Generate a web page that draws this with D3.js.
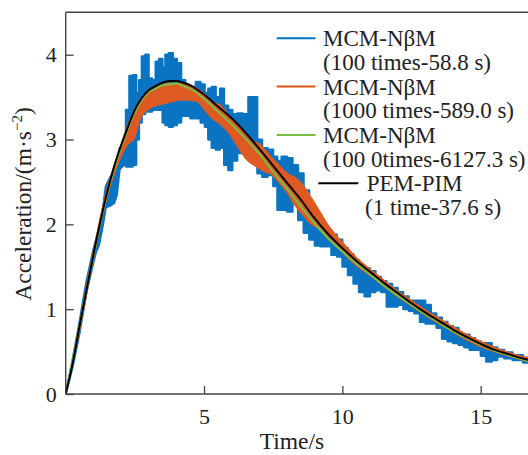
<!DOCTYPE html>
<html>
<head>
<meta charset="utf-8">
<script src="https://cdn.jsdelivr.net/npm/d3@7"></script>
<style>
  html, body { margin: 0; padding: 0; background: #fff; }
  svg { display: block; }
  text { font-family: "Liberation Serif", "Times New Roman", serif; fill: #222; }
</style>
</head>
<body>
<svg id="chart" width="528" height="455"></svg>
<script>
// ---------- data ----------
const xTicks = [5, 10, 15];
const yTicks = [0, 1, 2, 3, 4];

// PEM-PIM (1 time-37.6 s)
const pemT = [0,0.25,0.5,0.75,1,1.25,1.5,1.75,2,2.25,2.5,2.75,3,3.25,3.5,3.75,4,4.25,4.5,4.75,5,5.5,6,6.5,7,7.5,8,8.5,9,9.5,10,10.5,11,11.5,12,12.5,13,13.5,14,14.5,15,15.5,16,16.5,16.75];
const pemV = [0,0.36,0.8,1.22,1.64,2.03,2.38,2.68,2.93,3.15,3.35,3.49,3.58,3.63,3.67,3.69,3.69,3.67,3.64,3.59,3.53,3.39,3.25,3.08,2.89,2.69,2.49,2.29,2.07,1.88,1.72,1.57,1.44,1.31,1.19,1.07,0.96,0.86,0.76,0.67,0.59,0.52,0.47,0.42,0.40];

// MCM-NβM (10000 times) — thin line
const greenT = [0,0.5,1,1.5,2,2.5,3,3.25,3.5,3.75,4,4.25,4.5,5,5.5,6,6.5,7,7.5,8,8.5,9,9.5,10,10.5,11,11.5,12,12.5,13,13.5,14,14.5,15,15.5,16,16.5,16.75];
const greenV = [0,0.8,1.63,2.36,2.9,3.32,3.56,3.6,3.64,3.65,3.66,3.63,3.6,3.48,3.33,3.18,3.01,2.83,2.62,2.42,2.21,2.01,1.83,1.68,1.54,1.41,1.28,1.16,1.05,0.94,0.84,0.74,0.66,0.58,0.51,0.46,0.41,0.39];

// MCM-NβM (1000 times) — band (low / high envelope)
const orangeT = [0,0.5,1,1.5,2,2.25,2.45,2.7,3.05,3.65,4.25,4.75,5,5.3,5.6,5.9,6.2,6.5,6.8,7.0,7.2,7.4,7.7,8,8.3,8.6,8.9,9.2,9.5,9.8,10.1,10.5,11,11.5,12,12.5,13,13.5,14,14.5,15,15.5,16,16.75];
const orangeLow  = [0,0.75,1.6,2.33,2.8,2.95,3.0,3.25,3.37,3.43,3.47,3.45,3.36,3.25,3.18,3.08,2.93,2.78,2.7,2.66,2.62,2.6,2.5,2.38,2.22,2.1,2.0,1.94,1.84,1.75,1.64,1.52,1.4,1.27,1.15,1.04,0.93,0.83,0.73,0.64,0.56,0.5,0.45,0.38];
const orangeHigh = [0,0.82,1.68,2.42,2.93,3.17,3.32,3.47,3.59,3.66,3.66,3.6,3.54,3.44,3.4,3.28,3.18,3.06,2.97,2.95,2.88,2.8,2.7,2.6,2.55,2.45,2.3,2.14,1.98,1.86,1.75,1.61,1.47,1.34,1.21,1.1,0.99,0.89,0.79,0.7,0.62,0.55,0.49,0.42];

// MCM-NβM (100 times) — band (low / high envelope)
const blueT = [0,0.25,0.5,0.75,1.0,1.1,1.2,1.35,1.45,1.6,1.75,1.85,1.95,2.1,2.25,2.35,2.5,2.6,2.7,2.8,2.95,3.05,3.2,3.3,3.45,3.55,3.65,3.8,3.95,4.1,4.25,4.4,4.6,4.8,4.95,5.1,5.2,5.35,5.5,5.65,5.8,5.95,6.1,6.3,6.5,6.7,6.85,7.0,7.2,7.4,7.6,7.7,7.9,8.1,8.3,8.5,8.7,8.9,9.1,9.3,9.5,9.7,9.9,10.1,10.3,10.5,10.7,10.9,11.1,11.3,11.5,11.7,11.9,12.1,12.3,12.5,12.7,12.9,13.1,13.3,13.5,13.7,13.9,14.1,14.3,14.5,14.7,14.9,15.1,15.3,15.5,15.7,16.0,16.3,16.75];
const blueLow  = [0,0.32,0.72,1.2,1.55,1.68,1.75,2.0,2.2,2.22,2.25,2.35,2.65,2.7,2.68,2.68,2.7,3.0,3.2,3.3,3.33,3.33,3.35,3.35,3.35,3.2,3.17,3.15,3.17,3.2,3.28,3.28,3.25,3.25,3.2,3.15,3.0,2.9,2.88,2.9,2.7,2.64,2.75,2.84,2.84,2.8,2.75,2.6,2.56,2.58,2.45,2.17,2.17,2.15,2.25,2.05,1.9,1.82,1.75,1.74,1.74,1.64,1.62,1.5,1.4,1.3,1.2,1.15,1.2,1.22,1.2,1.03,1.03,1.05,1.0,0.98,0.95,0.85,0.83,0.83,0.78,0.65,0.62,0.6,0.58,0.55,0.52,0.52,0.45,0.38,0.4,0.44,0.42,0.4,0.37];
const blueHigh = [0,0.4,0.85,1.33,1.7,1.82,1.95,2.2,2.45,2.55,2.62,2.75,2.9,2.95,3.35,3.75,3.76,3.55,3.7,3.98,4.0,3.72,3.7,3.92,3.95,3.85,4.0,4.02,3.95,3.9,3.7,3.62,3.62,3.68,3.65,3.55,3.6,3.62,3.5,3.6,3.4,3.35,3.3,3.31,3.3,3.5,3.5,3.0,2.9,2.88,2.8,2.75,2.8,2.78,2.7,2.6,2.4,2.2,2.05,1.93,1.93,1.88,1.82,1.72,1.65,1.58,1.52,1.48,1.45,1.38,1.33,1.3,1.25,1.2,1.15,1.1,1.1,1.1,1.05,0.95,0.9,0.85,0.8,0.78,0.7,0.7,0.66,0.62,0.6,0.6,0.55,0.52,0.49,0.46,0.43];

const legendItems = [
  { line1: "MCM-NβM", line2: "(100 times-58.8 s)", color: "#0072BD" },
  { line1: "MCM-NβM", line2: "(1000 times-589.0 s)", color: "#D95319" },
  { line1: "MCM-NβM", line2: "(100 0times-6127.3 s)", color: "#77C043" },
  { line1: "PEM-PIM", line2: "(1 time-37.6 s)", color: "#000000" }
];

// ---------- layout ----------
const plot = { left: 65.7, top: 12.3, right: 528, bottom: 394 };
const svg = d3.select("#chart");

const x = d3.scaleLinear().domain([0, 16.71]).range([plot.left, plot.right]);
const y = d3.scaleLinear().domain([0, 4.5]).range([plot.bottom, plot.top]);

svg.append("clipPath").attr("id", "clip")
  .append("rect").attr("x", plot.left).attr("y", plot.top)
  .attr("width", plot.right - plot.left).attr("height", plot.bottom - plot.top);

const g = svg.append("g").attr("clip-path", "url(#clip)");

function bandIdx(T, lo, hi, idx, curve) {
  return d3.area().x(i => x(T[i])).y0(i => y(lo[i])).y1(i => y(hi[i])).curve(curve)(idx);
}
function line(T, V) {
  return d3.line().x((d, i) => x(T[i])).y((d, i) => y(V[i])).curve(d3.curveMonotoneX)(T);
}

// blue band: steep rise drawn linearly, the noisy remainder as steps
const blueRise = d3.range(blueT.length).filter(i => blueT[i] <= 2.1);
const blueRest = d3.range(blueT.length).filter(i => blueT[i] >= 2.1);
[[blueRise, d3.curveLinear], [blueRest, d3.curveStep]].forEach(([idx, c]) => {
  g.append("path").attr("d", bandIdx(blueT, blueLow, blueHigh, idx, c))
    .attr("fill", "#0A74C2").attr("stroke", "#0A74C2").attr("stroke-width", 2.2).attr("stroke-linejoin", "round");
});
// orange band
g.append("path").attr("d", bandIdx(orangeT, orangeLow, orangeHigh, d3.range(orangeT.length), d3.curveMonotoneX))
  .attr("fill", "#DE5A22").attr("stroke", "#DE5A22").attr("stroke-width", 1.5);
// green line
g.append("path").attr("d", line(greenT, greenV))
  .attr("fill", "none").attr("stroke", "#77C043").attr("stroke-width", 2);
// black line
g.append("path").attr("d", line(pemT, pemV))
  .attr("fill", "none").attr("stroke", "#000").attr("stroke-width", 2);

// ---------- axes ----------
const axisColor = "#444";
const xAxis = svg.append("g").attr("transform", `translate(0,${plot.bottom})`)
  .call(d3.axisBottom(x).tickValues(xTicks).tickSize(-8).tickPadding(14).tickFormat(d3.format("d")));
const yAxis = svg.append("g").attr("transform", `translate(${plot.left},0)`)
  .call(d3.axisLeft(y).tickValues(yTicks).tickSize(-8).tickPadding(9).tickFormat(d3.format("d")));
[xAxis, yAxis].forEach(a => {
  a.select(".domain").remove();
  a.selectAll(".tick line").attr("stroke", axisColor).attr("stroke-width", 1.3);
  a.selectAll(".tick text").attr("font-family", "Liberation Serif").attr("font-size", 22).attr("fill", "#222");
});
xAxis.selectAll(".tick text").attr("dy", "0.71em");

// frame lines: left, bottom, top
svg.append("line").attr("x1", plot.left).attr("x2", plot.left).attr("y1", plot.top).attr("y2", plot.bottom)
  .attr("stroke", axisColor).attr("stroke-width", 1.4);
svg.append("line").attr("x1", plot.left).attr("x2", plot.right).attr("y1", plot.bottom).attr("y2", plot.bottom)
  .attr("stroke", axisColor).attr("stroke-width", 1.4);
svg.append("line").attr("x1", plot.left).attr("x2", plot.right).attr("y1", plot.top).attr("y2", plot.top)
  .attr("stroke", axisColor).attr("stroke-width", 1.4);

// axis titles
svg.append("text").attr("x", 292).attr("y", 449).attr("text-anchor", "middle")
  .attr("font-size", 23.5).text("Time/s");
const yl = svg.append("text").attr("transform", "translate(31,204) rotate(-90)")
  .attr("text-anchor", "middle").attr("font-size", 23.5);
yl.append("tspan").text("Acceleration/(m·s");
yl.append("tspan").attr("font-size", 15).attr("dy", -9).text("−2");
yl.append("tspan").attr("dy", 9).text(")");

// ---------- legend ----------
const lg = svg.append("g");
legendItems.forEach((it, i) => {
  const base = 46.3 + i * 48.3;
  const isLast = i === 3;
  const lx1 = isLast ? 318.3 : 276.7, lx2 = isLast ? 358.3 : 315.5;
  lg.append("line").attr("x1", lx1).attr("x2", lx2).attr("y1", base - 8).attr("y2", base - 8)
    .attr("stroke", it.color).attr("stroke-width", 2);
  lg.append("text").attr("x", isLast ? 366.7 : 323).attr("y", base).attr("font-size", 23).text(it.line1);
  lg.append("text").attr("x", isLast ? 365 : 323).attr("y", base + 23.8).attr("font-size", 23).text(it.line2);
});
</script>
</body>
</html>
